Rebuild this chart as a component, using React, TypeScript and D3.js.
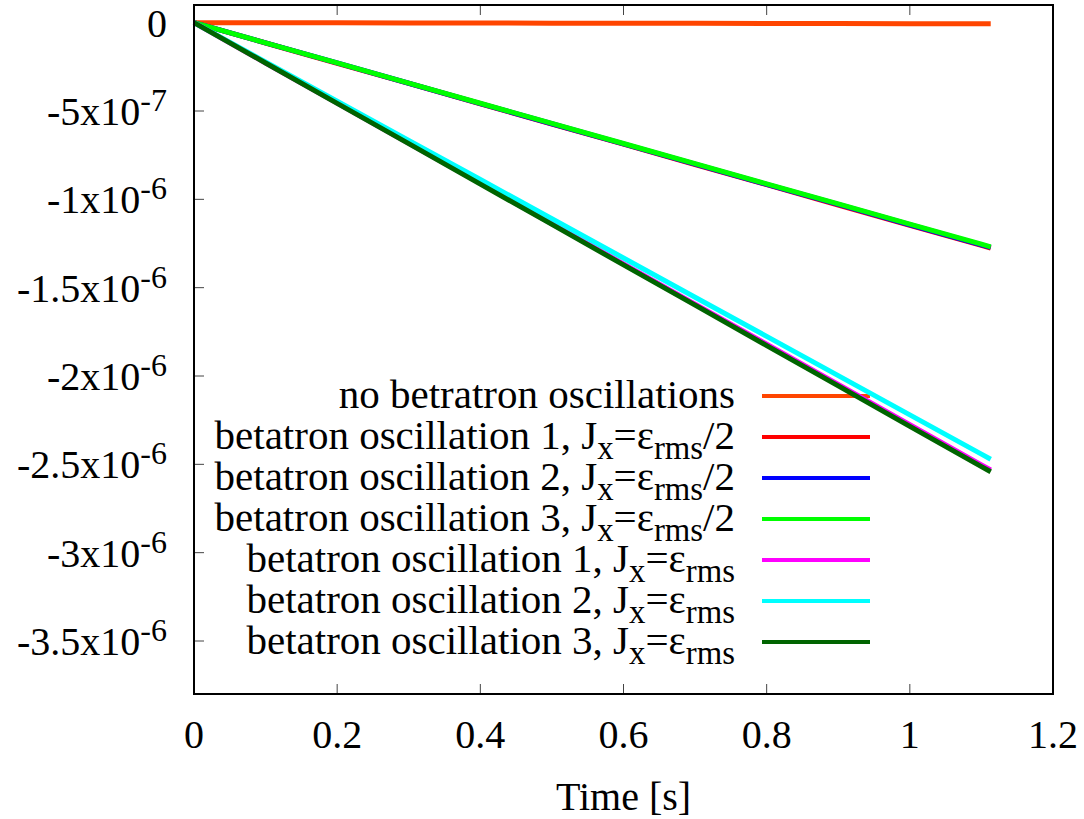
import React from 'react';
import * as d3 from 'd3';

// time samples [s]
const TIME = [0, 0.1, 0.2, 0.3, 0.4, 0.5, 0.6, 0.7, 0.8, 0.9, 1.0, 1.1, 1.113];

// relative change per series
const NO_OSC = [0, -0.5e-9, -1.1e-9, -1.6e-9, -2.2e-9, -2.7e-9, -3.3e-9, -3.8e-9, -4.4e-9, -4.9e-9, -5.5e-9, -6.0e-9, -6.1e-9];
const HALF_1 = [0, -1.15e-7, -2.30e-7, -3.44e-7, -4.59e-7, -5.74e-7, -6.88e-7, -8.03e-7, -9.17e-7, -1.032e-6, -1.147e-6, -1.261e-6, -1.276e-6];
const HALF_2 = [0, -1.14e-7, -2.28e-7, -3.43e-7, -4.58e-7, -5.72e-7, -6.86e-7, -8.01e-7, -9.15e-7, -1.029e-6, -1.144e-6, -1.258e-6, -1.272e-6];
const HALF_3 = [0, -1.14e-7, -2.28e-7, -3.42e-7, -4.56e-7, -5.70e-7, -6.84e-7, -7.98e-7, -9.12e-7, -1.026e-6, -1.140e-6, -1.254e-6, -1.269e-6];
const FULL_1 = [0, -2.28e-7, -4.55e-7, -6.83e-7, -9.10e-7, -1.138e-6, -1.365e-6, -1.593e-6, -1.820e-6, -2.048e-6, -2.275e-6, -2.503e-6, -2.532e-6];
const FULL_2 = [0, -2.22e-7, -4.44e-7, -6.66e-7, -8.88e-7, -1.110e-6, -1.332e-6, -1.554e-6, -1.776e-6, -1.998e-6, -2.220e-6, -2.442e-6, -2.471e-6];
const FULL_3 = [0, -2.28e-7, -4.57e-7, -6.85e-7, -9.14e-7, -1.142e-6, -1.371e-6, -1.599e-6, -1.828e-6, -2.056e-6, -2.285e-6, -2.513e-6, -2.542e-6];

const SERIES_COLORS = ['#ff4500', '#ff0000', '#0000ff', '#00ff00', '#ff00ff', '#00ffff', '#006400'];
const LEGEND_NUM = [0, 1, 2, 3, 1, 2, 3];
const LEGEND_HALF = [false, true, true, true, false, false, false];

const X_TICKS = [0, 0.2, 0.4, 0.6, 0.8, 1, 1.2];
const X_TICK_LABELS = ['0', '0.2', '0.4', '0.6', '0.8', '1', '1.2'];
const Y_TICKS = [0, -5e-7, -1e-6, -1.5e-6, -2e-6, -2.5e-6, -3e-6, -3.5e-6];
const Y_TICK_MANT = ['0', '-5x10', '-1x10', '-1.5x10', '-2x10', '-2.5x10', '-3x10', '-3.5x10'];
const Y_TICK_EXP = ['', '-7', '-6', '-6', '-6', '-6', '-6', '-6'];

const W = 1084, H = 819;
const margin = { left: 194, right: 1053, top: 5, bottom: 694 };
const FONT = '"Liberation Serif", "Times New Roman", Times, serif';
const FS = 40;
const LFS = 41; // legend font

export default function App() {
  const x = d3.scaleLinear().domain([0, 1.2]).range([margin.left, margin.right]);
  const y = d3.scaleLinear().domain([-3.8e-6, 1e-7]).range([margin.bottom, margin.top]);
  const allSeries = [NO_OSC, HALF_1, HALF_2, HALF_3, FULL_1, FULL_2, FULL_3];

  const line = d3.line<number>()
    .x((d, i) => x(TIME[i]))
    .y(d => y(d));

  const legendRight = 735;
  const keyX0 = 762, keyX1 = 870;
  const rowY = (i: number) => 396 + i * 41;

  const legendText = (i: number) => {
    if (i === 0) return <tspan>no betratron oscillations</tspan>;
    return (
      <>
        <tspan>{`betatron oscillation ${LEGEND_NUM[i]}, J`}</tspan>
        <tspan dy={10} fontSize={LFS * 0.8}>x</tspan>
        <tspan dy={-10}>=ε</tspan>
        <tspan dy={10} fontSize={LFS * 0.8}>rms</tspan>
        {LEGEND_HALF[i] ? <tspan dy={-10}>/2</tspan> : null}
      </>
    );
  };

  return (
    <svg width={W} height={H} style={{ position: 'absolute', left: 0, top: 0, background: '#fff', fontFamily: FONT }}
      fontSize={FS}>
      {/* ticks */}
      {X_TICKS.map((t, i) => (
        <g key={'xt' + i}>
          <line x1={x(t)} x2={x(t)} y1={margin.bottom} y2={margin.bottom - 10} stroke="#444" strokeWidth={1} />
          <line x1={x(t)} x2={x(t)} y1={margin.top} y2={margin.top + 10} stroke="#444" strokeWidth={1} />
          <text x={x(t)} y={748} textAnchor="middle" style={{ fontFamily: FONT }}>{X_TICK_LABELS[i]}</text>
        </g>
      ))}
      {Y_TICKS.map((t, i) => (
        <g key={'yt' + i}>
          <line x1={margin.left} x2={margin.left + 10} y1={y(t)} y2={y(t)} stroke="#444" strokeWidth={1} />
          <text x={167} y={y(t) + 14} textAnchor="end" style={{ fontFamily: FONT }}>
            <tspan>{Y_TICK_MANT[i]}</tspan>
            {Y_TICK_EXP[i] ? <tspan dy={-14} fontSize={FS * 0.8}>{Y_TICK_EXP[i]}</tspan> : null}
          </text>
        </g>
      ))}

      {/* series with key entries */}
      {allSeries.map((s, i) => (
        <g key={'s' + i}>
          <text x={legendRight} y={rowY(i) + 12} textAnchor="end" fontSize={LFS} style={{ fontFamily: FONT }}>
            {legendText(i)}
          </text>
          <line x1={keyX0} x2={keyX1} y1={rowY(i)} y2={rowY(i)} stroke={SERIES_COLORS[i]} strokeWidth={4} />
          <path d={line(s) ?? ''} fill="none" stroke={SERIES_COLORS[i]} strokeWidth={5} />
        </g>
      ))}

      {/* border */}
      <rect x={margin.left} y={margin.top} width={margin.right - margin.left} height={margin.bottom - margin.top}
        fill="none" stroke="#000" strokeWidth={2} />

      <text x={(margin.left + margin.right) / 2} y={810} textAnchor="middle" style={{ fontFamily: FONT }}>Time [s]</text>
    </svg>
  );
}
